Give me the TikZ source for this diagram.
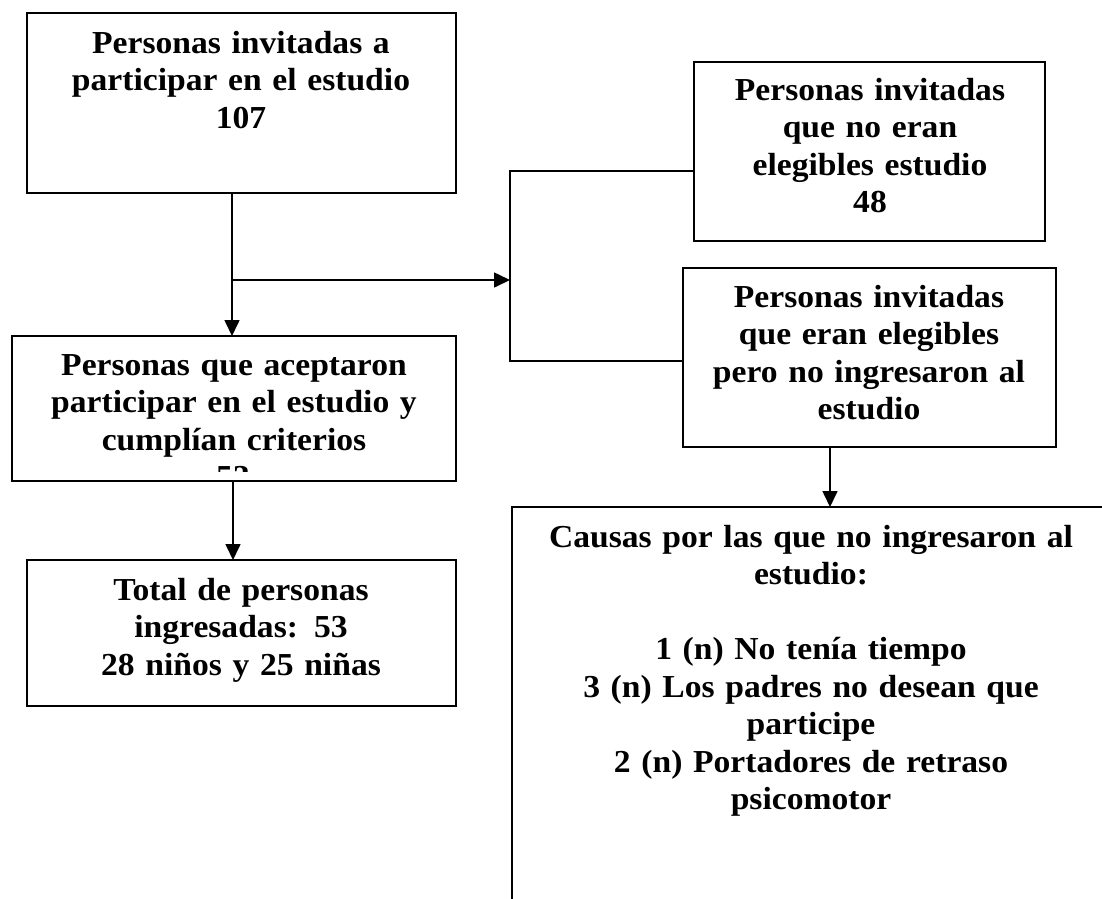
\documentclass[tikz,border=0pt]{standalone}
\usepackage{fontspec}
\setmainfont{Liberation Serif}[FakeStretch=1.05]
\usetikzlibrary{arrows.meta}
\begin{document}
\begin{tikzpicture}[x=1pt,y=-1pt,
  boxline/.style={draw=black,line width=1.4pt},
  txt/.style={anchor=base,inner sep=0pt,align=center,text width=620pt,
    font=\fontsize{32}{37.5}\selectfont\bfseries},
  conn/.style={line width=1.6pt,draw=black},
  arr/.style={conn,-{Triangle[length=16pt,width=15pt]}}]
\useasboundingbox (0,0) rectangle (1102,898);
\fill[white] (0,0) rectangle (1102,898);
% boxes
\draw[boxline] (27,13) rectangle (456,193);
\coordinate (b1s) at (232,193);
\draw[boxline] (12,336) rectangle (456,481);
\coordinate (b2n) at (232,336);
\coordinate (b2s) at (233,481);
\draw[boxline] (27,560) rectangle (456,706);
\coordinate (b3n) at (233,560);
\draw[boxline] (694,62) rectangle (1045,241);
\coordinate (b4w) at (694,171);
\draw[boxline] (683,268) rectangle (1056,447);
\coordinate (b5w) at (683,361);
\coordinate (b5s) at (830,447);
\draw[boxline] (1120,507) -- (512,507) -- (512,910);
\coordinate (b6n) at (830,507);
% texts
\node[txt] (t1) at (241,53) {Personas invitadas a\\participar en el estudio\\107};
\node[txt] (t2) at (234,375) {Personas que aceptaron\\participar en el estudio y\\cumplían criterios};
\begin{scope}
\clip (12,336) rectangle (456,471);
\node[txt] (t2b) at (233,487) {53};
\end{scope}
\node[txt] (t3) at (241,600) {Total de personas\\ingresadas: 53\\28 niños y 25 niñas};
\node[txt] (t4) at (870,100) {Personas invitadas\\que no eran\\elegibles estudio\\48};
\node[txt] (t5) at (869,307) {Personas invitadas\\que eran elegibles\\pero no ingresaron al\\estudio};
\node[txt] (t6) at (811,547) {Causas por las que no ingresaron al\\estudio:\\[37.5pt]1 (n) No tenía tiempo\\3 (n) Los padres no desean que\\participe\\2 (n) Portadores de retraso\\psicomotor};
% connectors
\coordinate (split) at (232,280);
\coordinate (bt) at (510,171);
\coordinate (bb) at (510,361);
\coordinate (bm) at (510,280);
\draw[arr] (b1s) -- (b2n);
\draw[arr] (split) -- (bm);
\draw[conn] (b4w) -- (bt) -- (bb) -- (b5w);
\draw[arr] (b2s) -- (b3n);
\draw[arr] (b5s) -- (b6n);
\end{tikzpicture}
\end{document}
